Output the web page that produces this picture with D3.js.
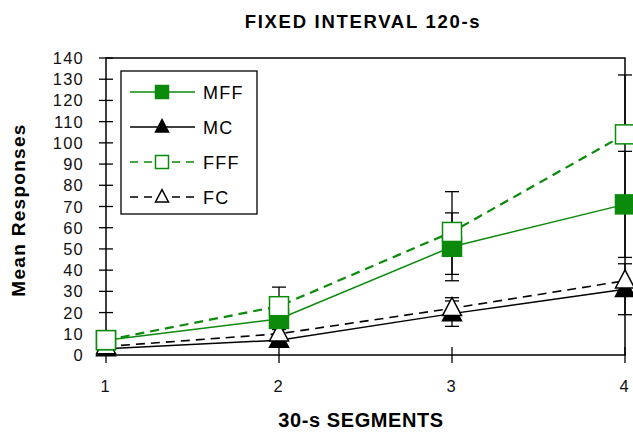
<!DOCTYPE html>
<html>
<head>
<meta charset="utf-8">
<script src="https://cdn.jsdelivr.net/npm/d3@7"></script>
<style>
  body { margin: 0; background: #fff; }
  svg text { font-family: "Liberation Sans", Arial, sans-serif; }
</style>
</head>
<body>
<svg id="chart" width="633" height="433"></svg>
<script>
// segments on the x axis
const segments = [1, 2, 3, 4];
const yTicks = d3.range(0, 141, 10);

// series means
const mff = [7, 17, 51, 71];
const mc = [3, 7, 19.5, 31];
const fff = [7, 23, 58, 104];
const fc = [4, 10, 22, 35];

// error bars (up / down), 0 = none
const mffErrUp = [0, 0, 16, 25];
const mffErrDown = [0, 0, 16, 25];
const mcErrUp = [0, 2, 6, 12];
const mcErrDown = [0, 2, 6, 12];
const fffErrUp = [0, 9, 19, 28];
const fffErrDown = [0, 0, 20, 0];
const fcErrUp = [0, 2, 5, 0];
const fcErrDown = [0, 0, 0, 0];

const green = '#0b8a0b';

const series = [
  { name: 'MFF', values: mff, up: mffErrUp, down: mffErrDown, color: green, dash: null, width: 1.5, shape: 'square', fill: true },
  { name: 'MC', values: mc, up: mcErrUp, down: mcErrDown, color: '#000', dash: null, width: 1.5, shape: 'triangle', fill: true },
  { name: 'FFF', values: fff, up: fffErrUp, down: fffErrDown, color: green, dash: '9,6', width: 2.2, shape: 'square', fill: false },
  { name: 'FC', values: fc, up: fcErrUp, down: fcErrDown, color: '#000', dash: '9,6', width: 1.6, shape: 'triangle', fill: false }
];

const svg = d3.select('#chart');
const plotLeft = 106, plotRight = 625, plotTop = 58, plotBottom = 355;

const x = d3.scaleLinear().domain([1, 4]).range([plotLeft, plotRight]);
const y = d3.scaleLinear().domain([0, 140]).range([plotBottom, plotTop]);

// frame
svg.append('rect')
  .attr('x', plotLeft).attr('y', plotTop)
  .attr('width', plotRight - plotLeft).attr('height', plotBottom - plotTop)
  .attr('fill', 'none').attr('stroke', '#000').attr('stroke-width', 1.5);

// y axis ticks (crossing)
const yAxis = svg.append('g');
yAxis.selectAll('line').data(yTicks).enter().append('line')
  .attr('x1', plotLeft - 7).attr('x2', plotLeft + 7)
  .attr('y1', d => y(d)).attr('y2', d => y(d))
  .attr('stroke', '#000').attr('stroke-width', 1.3);
yAxis.selectAll('text').data(yTicks).enter().append('text')
  .attr('x', 84).attr('y', d => y(d) + 6)
  .attr('text-anchor', 'end').attr('font-size', 16.5)
  .attr('letter-spacing', 1.2)
  .attr('fill', '#111')
  .text(d => d);

// x axis ticks (crossing)
const xAxis = svg.append('g');
xAxis.selectAll('line').data(segments).enter().append('line')
  .attr('x1', d => x(d)).attr('x2', d => x(d))
  .attr('y1', plotBottom - 8).attr('y2', plotBottom + 8)
  .attr('stroke', '#000').attr('stroke-width', 1.3);
xAxis.selectAll('text').data(segments).enter().append('text')
  .attr('x', d => x(d) - 1).attr('y', 392)
  .attr('text-anchor', 'middle').attr('font-size', 16.5)
  .attr('fill', '#111')
  .text(d => d);

// titles
svg.append('text').attr('x', 363).attr('y', 28).attr('text-anchor', 'middle')
  .attr('font-size', 18.5).attr('font-weight', 'bold').attr('letter-spacing', 1.7)
  .text('FIXED INTERVAL 120-s');
svg.append('text').attr('x', 361).attr('y', 427).attr('text-anchor', 'middle')
  .attr('font-size', 20).attr('font-weight', 'bold').attr('letter-spacing', 0.6)
  .text('30-s SEGMENTS');
svg.append('text').attr('transform', 'translate(25,210) rotate(-90)').attr('text-anchor', 'middle')
  .attr('font-size', 19).attr('font-weight', 'bold').attr('letter-spacing', 1.3)
  .text('Mean Responses');

// error bars
const errG = svg.append('g');
series.forEach(s => {
  segments.forEach((seg, i) => {
    const v = s.values[i];
    [[s.up[i], 1], [s.down[i], -1]].forEach(([e, dir]) => {
      if (!e) return;
      const yEnd = y(v + dir * e);
      errG.append('line').attr('x1', x(seg)).attr('x2', x(seg))
        .attr('y1', y(v)).attr('y2', yEnd).attr('stroke', '#000').attr('stroke-width', 1.3);
      errG.append('line').attr('x1', x(seg) - 7).attr('x2', x(seg) + 7)
        .attr('y1', yEnd).attr('y2', yEnd).attr('stroke', '#000').attr('stroke-width', 1.3);
    });
  });
});

const line = d3.line().x((d, i) => x(segments[i])).y(d => y(d));

function drawMarker(g, s, cx, cy, size) {
  if (s.shape === 'square') {
    g.append('rect').attr('x', cx - size / 2).attr('y', cy - size / 2)
      .attr('width', size).attr('height', size)
      .attr('fill', s.fill ? s.color : '#fff').attr('stroke', s.color).attr('stroke-width', 1.5);
  } else {
    const h = size * 0.95;
    g.append('path')
      .attr('d', `M${cx},${cy - h * 0.6}L${cx + size / 2},${cy + h * 0.4}L${cx - size / 2},${cy + h * 0.4}Z`)
      .attr('fill', s.fill ? '#000' : '#fff').attr('stroke', '#000').attr('stroke-width', 1.5);
  }
}

// lines and markers (draw order: MC, FC, MFF, FFF so squares sit on top)
const order = [series[1], series[3], series[0], series[2]];
order.forEach(s => {
  svg.append('path').datum(s.values).attr('d', line)
    .attr('fill', 'none').attr('stroke', s.color).attr('stroke-width', s.width)
    .attr('stroke-dasharray', s.dash);
});
order.forEach(s => {
  const g = svg.append('g');
  s.values.forEach((v, i) => drawMarker(g, s, x(segments[i]), y(v), 19));
});

// legend
const lg = svg.append('g');
lg.append('rect').attr('x', 121).attr('y', 71).attr('width', 136).attr('height', 143)
  .attr('fill', '#fff').attr('stroke', '#000').attr('stroke-width', 1.3);
series.forEach((s, i) => {
  const ly = 92 + i * 35;
  lg.append('line').attr('x1', 130).attr('x2', 195).attr('y1', ly).attr('y2', ly)
    .attr('stroke', s.color).attr('stroke-width', 1.5)
    .attr('stroke-dasharray', s.dash ? '8,6' : null);
  drawMarker(lg, s, 162, ly, 13);
  lg.append('text').attr('x', 203).attr('y', ly + 6.5).attr('font-size', 18)
    .attr('letter-spacing', 1.2).text(s.name);
});
</script>
</body>
</html>
